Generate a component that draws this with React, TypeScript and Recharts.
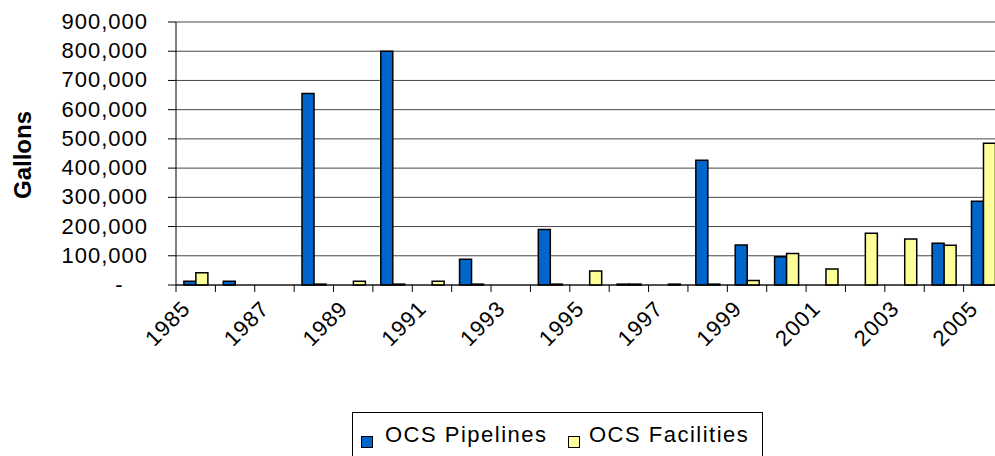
import React from "react";
import { BarChart, Bar, XAxis, YAxis, CartesianGrid, Legend, Label } from "recharts";

const years = [
  "1985", "1986", "1987", "1988", "1989", "1990", "1991", "1992", "1993", "1994", "1995",
  "1996", "1997", "1998", "1999", "2000", "2001", "2002", "2003", "2004", "2005",
];
const pipelines = [
  13000, 13000, 0, 655000, 0, 800000, 0, 88000, 0, 190000, 0,
  3000, 0, 427000, 137000, 97000, 0, 0, 0, 143000, 287000,
];
const facilities = [
  42000, 0, 0, 3000, 13000, 3000, 13000, 3000, 0, 3000, 48000,
  3000, 3000, 3000, 15000, 108000, 55000, 177000, 157000, 136000, 485000,
];
const yTicks = [0, 100000, 200000, 300000, 400000, 500000, 600000, 700000, 800000, 900000];

const data = years.map((year, i) => ({ year, pipelines: pipelines[i], facilities: facilities[i] }));

const FONT = "'Liberation Sans', Arial, sans-serif";
const BLUE = "#0066CC";
const YELLOW = "#FFFF99";

const YTick = (props: any) => {
  const { x, y, payload } = props;
  if (payload.value === 0) {
    return (
      <text x={x - 29} y={y} dy={7} textAnchor="middle" fontFamily={FONT} fontSize={22} fill="#000">
        -
      </text>
    );
  }
  return (
    <text x={x} y={y} dy={7} textAnchor="end" fontFamily={FONT} fontSize={22} letterSpacing={1} fill="#000">
      {payload.value.toLocaleString("en-US")}
    </text>
  );
};

const XTick = (props: any) => {
  const { x, y, payload, index } = props;
  const half = payload.offset || 19.7;
  const tx = x - 4;
  const ty = y + 25;
  return (
    <g>
      <line x1={x - half} y1={y} x2={x - half} y2={y + 7} stroke="#000" />
      {index % 2 === 0 && (
        <text
          x={tx}
          y={ty}
          transform={`rotate(-45, ${tx}, ${ty})`}
          textAnchor="end"
          fontFamily={FONT}
          fontSize={22}
          letterSpacing={1}
          fill="#000"
        >
          {payload.value}
        </text>
      )}
    </g>
  );
};

const LegendBox = () => (
  <svg width={412} height={62} style={{ display: "block" }}>
    <rect x={0.5} y={0.5} width={410} height={60} fill="#fff" stroke="#000" />
    <rect x={9.5} y={24.5} width={11} height={11} fill={BLUE} stroke="#000" />
    <text x={33} y={30} fontFamily={FONT} fontSize={22} letterSpacing={1.5} fill="#000">
      OCS Pipelines
    </text>
    <rect x={216.5} y={24.5} width={11} height={11} fill={YELLOW} stroke="#000" />
    <text x={237} y={30} fontFamily={FONT} fontSize={22} letterSpacing={1.5} fill="#000">
      OCS Facilities
    </text>
  </svg>
);

export default function App() {
  return (
    <div
      style={{
        position: "absolute",
        left: 0,
        top: 0,
        width: 995,
        height: 456,
        overflow: "hidden",
        background: "#fff",
      }}
    >
      <BarChart
        width={1010}
        height={456}
        data={data}
        margin={{ top: 22, right: 7, bottom: 0, left: 0 }}
        barCategoryGap="20%"
        barGap={0}
      >
        <CartesianGrid vertical={false} stroke="#333" strokeOpacity={0.9} />
        <XAxis
          dataKey="year"
          interval={0}
          tickLine={false}
          tickSize={0}
          tickMargin={0}
          tick={<XTick />}
          axisLine={{ stroke: "#000" }}
          height={171}
        />
        <YAxis
          width={176}
          domain={[0, 900000]}
          ticks={yTicks}
          tickSize={8}
          tickMargin={20}
          tick={<YTick />}
          axisLine={{ stroke: "#000" }}
          tickLine={{ stroke: "#000" }}
          interval={0}
        >
          <Label
            content={() => (
              <text
                x={31}
                y={155}
                transform="rotate(-90, 31, 155)"
                textAnchor="middle"
                fontFamily={FONT}
                fontSize={24}
                fontWeight="bold"
                fill="#000"
              >
                Gallons
              </text>
            )}
          />
        </YAxis>
        <Legend
          verticalAlign="middle"
          align="center"
          layout="horizontal"
          content={() => <LegendBox />}
          wrapperStyle={{ left: 352, top: 412, width: 412, height: 62 }}
        />
        <Bar dataKey="pipelines" name="OCS Pipelines" fill={BLUE} stroke="#000" strokeWidth={1.5} isAnimationActive={false} />
        <Bar dataKey="facilities" name="OCS Facilities" fill={YELLOW} stroke="#000" strokeWidth={1.5} isAnimationActive={false} />
      </BarChart>
    </div>
  );
}
